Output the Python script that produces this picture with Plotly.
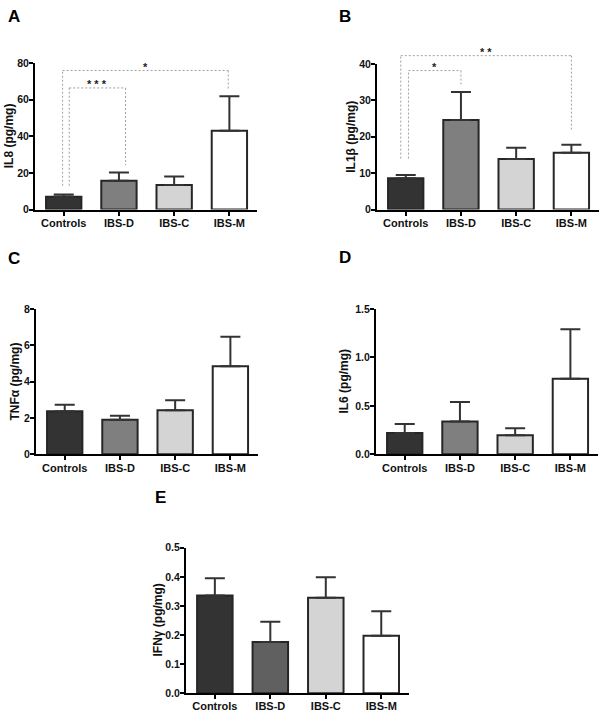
import plotly.graph_objects as go

# ---------------- data ----------------
categories = ["Controls", "IBS-D", "IBS-C", "IBS-M"]

il8_mean = [7.0, 15.7, 13.4, 43.0]
il8_sem = [1.2, 4.5, 4.7, 18.9]

il1b_mean = [8.6, 24.6, 13.9, 15.6]
il1b_sem = [0.9, 7.7, 3.1, 2.2]

tnfa_mean = [2.37, 1.90, 2.43, 4.85]
tnfa_sem = [0.36, 0.22, 0.54, 1.62]

il6_mean = [0.22, 0.34, 0.196, 0.78]
il6_sem = [0.094, 0.20, 0.074, 0.51]

ifng_mean = [0.336, 0.176, 0.328, 0.198]
ifng_sem = [0.059, 0.070, 0.071, 0.084]

# significance brackets: (left x, right x, top y, left foot y, right foot y, label)
il8_brackets = [
    (0.10, 1.12, 66.4, 13.0, 24.3, "* * *"),
    (-0.02, 2.98, 75.9, 13.0, 65.0, "*"),
]
il1b_brackets = [
    (0.05, 1.0, 38.2, 14.0, 34.4, "*"),
    (-0.09, 3.0, 42.3, 14.0, 21.9, "* *"),
]

# ---------------- styling ----------------
W, H = 602, 716
FONT = "Liberation Sans"
colors_main = ["#333333", "#7f7f7f", "#d4d4d4", "#ffffff"]
colors_e = ["#333333", "#606060", "#d4d4d4", "#ffffff"]

panels = [
    dict(letter="A", mean=il8_mean, sem=il8_sem, title="IL8 (pg/mg)", ymax=80, dtick=20,
         fmt="d", box=(35, 257, 58, 207), lpos=(6, -1), toff=26, colors=colors_main,
         brackets=il8_brackets),
    dict(letter="B", mean=il1b_mean, sem=il1b_sem, title="IL1β (pg/mg)", ymax=40, dtick=10,
         fmt="d", box=(377, 599, 59, 207), lpos=(337, -1), toff=26, colors=colors_main,
         brackets=il1b_brackets),
    dict(letter="C", mean=tnfa_mean, sem=tnfa_sem, title="TNFα (pg/mg)", ymax=8, dtick=2,
         fmt="d", box=(36, 258, 308, 456), lpos=(6, 245), toff=21, colors=colors_main,
         brackets=[]),
    dict(letter="D", mean=il6_mean, sem=il6_sem, title="IL6 (pg/mg)", ymax=1.5, dtick=0.5,
         fmt=".1f", box=(376, 598, 308, 456), lpos=(337, 244), toff=32, colors=colors_main,
         brackets=[]),
    dict(letter="E", mean=ifng_mean, sem=ifng_sem, title="IFNγ (pg/mg)", ymax=0.5, dtick=0.1,
         fmt=".1f", box=(186, 409, 551, 699), lpos=(153, 488), toff=28, colors=colors_e,
         brackets=[]),
]

fig = go.Figure()
shapes = []
annotations = []
layout = {}

for i, p in enumerate(panels, start=1):
    sfx = "" if i == 1 else str(i)
    xa, ya = "x" + sfx, "y" + sfx
    x0, x1, yt, yb = p["box"]
    fig.add_trace(go.Bar(
        x=categories, y=p["mean"], xaxis=xa, yaxis=ya, width=0.64,
        marker=dict(color=p["colors"], line=dict(color="#262626", width=2)),
        error_y=dict(type="data", array=p["sem"], arrayminus=[0] * 4, symmetric=False,
                     color="#333333", thickness=2, width=10),
        showlegend=False, hoverinfo="skip",
    ))
    layout["xaxis" + sfx] = dict(
        domain=[x0 / W, x1 / W], anchor=ya, range=[-0.52, 3.5],
        showline=True, linecolor="black", linewidth=2, ticks="outside", ticklen=4,
        tickwidth=1.5, tickcolor="black", showgrid=False, zeroline=False,
        ticklabelstandoff=-2,
        tickfont=dict(family=FONT, size=11, color="#111", weight="bold"), fixedrange=True,
    )
    layout["yaxis" + sfx] = dict(
        domain=[1 - yb / H, 1 - yt / H], anchor=xa, range=[0, p["ymax"]],
        showline=True, linecolor="black", linewidth=2, ticks="outside", ticklen=4,
        tickwidth=1.5, tickcolor="black", showgrid=False, zeroline=False,
        dtick=p["dtick"], tick0=0, tickformat=p["fmt"], ticklabelstandoff=-2,
        tickfont=dict(family=FONT, size=10.5, color="#111", weight="bold"), fixedrange=True,
    )
    # y title
    annotations.append(dict(
        text=p["title"], xref=xa + " domain", yref=ya + " domain", x=0, y=0.5,
        xshift=-p["toff"], xanchor="center", yanchor="middle", textangle=-90,
        showarrow=False, font=dict(family=FONT, size=12, color="#111", weight="bold"),
    ))
    # panel letter
    annotations.append(dict(
        text=p["letter"], xref="paper", yref="paper", x=p["lpos"][0] / W,
        y=1 - p["lpos"][1] / H, xanchor="left", yanchor="top", showarrow=False,
        font=dict(family=FONT, size=17, color="black", weight="bold"),
    ))
    # significance brackets
    for (bl, br, top, lf, rf, lab) in p["brackets"]:
        ymax = p["ymax"]
        ln = dict(color="#a0a0a0", width=1, dash="2px,2px")
        for seg in [(bl, lf, bl, top), (bl, top, br, top), (br, top, br, rf)]:
            shapes.append(dict(type="line", xref=xa, yref=ya + " domain",
                               x0=seg[0], y0=seg[1] / ymax, x1=seg[2], y1=seg[3] / ymax,
                               line=ln, layer="above"))
        annotations.append(dict(
            text=lab, xref=xa, yref=ya + " domain", x=(bl + br) / 2, y=top / ymax,
            xanchor="center", yanchor="bottom", yshift=-4, showarrow=False,
            font=dict(family=FONT, size=11, color="#222", weight="bold"),
        ))

fig.update_layout(
    width=W, height=H, margin=dict(l=0, r=0, t=0, b=0),
    paper_bgcolor="white", plot_bgcolor="white",
    shapes=shapes, annotations=annotations, bargap=0.3,
    **layout,
)

fig.write_html("out.html", config={"displayModeBar": False},
               post_script="document.body.style.margin='0px';document.body.style.overflow='hidden';")
